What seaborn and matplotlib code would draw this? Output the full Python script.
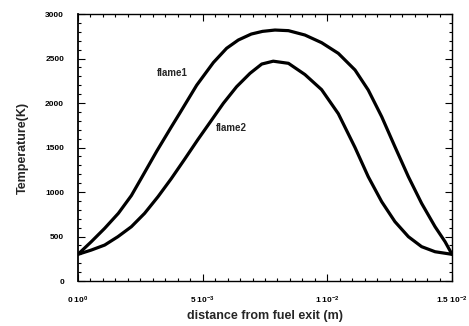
import matplotlib
matplotlib.use("Agg")
import matplotlib.pyplot as plt
import pandas as pd
import seaborn as sns
from matplotlib.ticker import MultipleLocator, FixedLocator

# Temperature profiles along the burner axis
flame1_x = [0.0, 0.000535, 0.00107, 0.00162, 0.00214, 0.00255, 0.00316, 0.00374,
            0.00409, 0.00476, 0.00543, 0.00596, 0.00643, 0.00695, 0.0074,
            0.0079, 0.00844, 0.0091, 0.00977, 0.01044, 0.01111, 0.01164,
            0.01218, 0.01271, 0.01325, 0.01378, 0.01432, 0.01472, 0.015]
flame1_T = [300, 442, 592, 761, 960, 1160, 1460, 1730,
            1890, 2200, 2455, 2615, 2708, 2775, 2805,
            2820, 2813, 2764, 2678, 2558, 2371, 2146,
            1846, 1509, 1172, 873, 610, 442, 300]

flame2_x = [0.0, 0.000535, 0.00107, 0.0016, 0.00214, 0.00267, 0.00321, 0.00374,
            0.00428, 0.00481, 0.00536, 0.00583, 0.00636, 0.0069, 0.00737,
            0.00783, 0.00844, 0.0091, 0.00977, 0.01044, 0.01111, 0.01164,
            0.01218, 0.01271, 0.01325, 0.01378, 0.01432, 0.015]
flame2_T = [300, 348, 404, 498, 610, 760, 948, 1150,
            1370, 1590, 1809, 1997, 2183, 2334, 2438,
            2470, 2446, 2320, 2150, 1880, 1500, 1172,
            891, 667, 498, 386, 329, 300]

x_ticks = [0.0, 0.005, 0.01, 0.015]
x_tick_labels = [r"0 10$^{0}$", r"5 10$^{-3}$", r"1 10$^{-2}$", r"1.5 10$^{-2}$"]
y_ticks = [0, 500, 1000, 1500, 2000, 2500, 3000]

sns.set_style("ticks")
plt.rcParams["font.family"] = ["Liberation Sans", "DejaVu Sans"]
plt.rcParams["mathtext.fontset"] = "custom"
plt.rcParams["mathtext.rm"] = "Liberation Sans:bold"
plt.rcParams["mathtext.it"] = "Liberation Sans:bold"

df = pd.concat([
    pd.DataFrame({"x": flame1_x, "T": flame1_T, "flame": "flame1"}),
    pd.DataFrame({"x": flame2_x, "T": flame2_T, "flame": "flame2"}),
])

fig = plt.figure(figsize=(4.69, 3.26), dpi=100)
ax = fig.add_axes([0.1663, 0.138, 0.7975, 0.819])

sns.lineplot(data=df, x="x", y="T", hue="flame", palette=["black", "black"],
             linewidth=2.3, legend=False, ax=ax, sort=False, estimator=None,
             solid_joinstyle="round", solid_capstyle="round")

ax.set_xlim(0, 0.015)
ax.set_ylim(0, 3000)
ax.xaxis.set_major_locator(FixedLocator(x_ticks))
ax.set_xticklabels(x_tick_labels)
ax.xaxis.set_minor_locator(MultipleLocator(0.0005))
ax.yaxis.set_major_locator(FixedLocator(y_ticks))
ax.set_yticklabels([str(v) for v in y_ticks])
ax.yaxis.set_minor_locator(MultipleLocator(100))

ax.tick_params(which="both", direction="in", top=True, right=True,
               labelsize=6, width=0.8, colors="black")
ax.tick_params(which="major", length=5, pad=10)
ax.tick_params(which="minor", length=2.5)
for lab in ax.get_xticklabels() + ax.get_yticklabels():
    lab.set_fontweight("bold")

for side in ["top", "right", "bottom", "left"]:
    ax.spines[side].set_visible(True)
    ax.spines[side].set_color("black")
    ax.spines[side].set_linewidth(1.0)
ax.spines["left"].set_linewidth(1.3)

ax.set_xlabel("distance from fuel exit (m)", fontsize=9, fontweight="bold", labelpad=3)
ax.set_ylabel("Temperature(K)", fontsize=9, fontweight="bold", labelpad=12)

ax.text(0.00377, 2337, "flame1", fontsize=7, fontweight="bold", ha="center", va="center")
ax.text(0.00614, 1719, "flame2", fontsize=7, fontweight="bold", ha="center", va="center")

fig.savefig("out.png", dpi=100, facecolor="white")
